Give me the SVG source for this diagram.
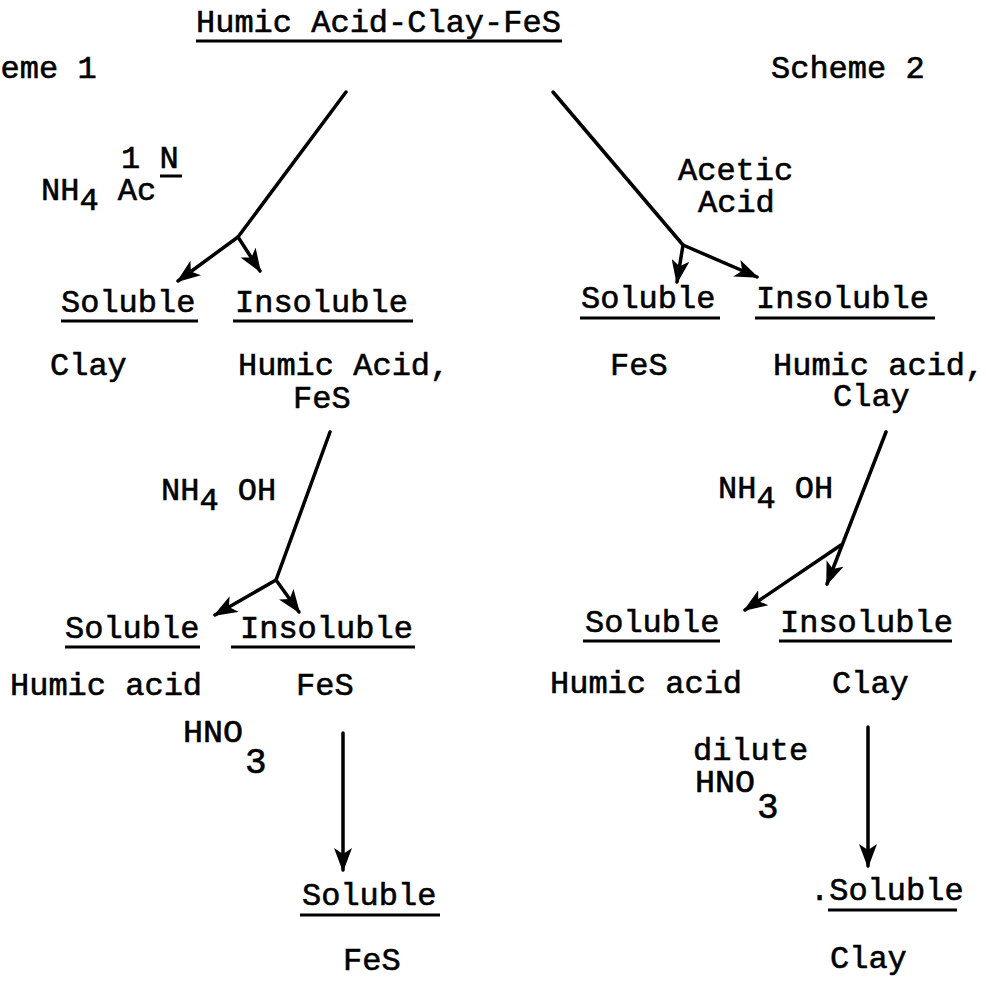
<svg xmlns="http://www.w3.org/2000/svg" width="986" height="984" viewBox="0 0 986 984">
<defs>
<style>
.t{font-family:"Liberation Mono","Courier New",monospace;font-size:32px;fill:#000;stroke:#000;stroke-width:0.6}
.u{stroke:#000;stroke-width:3;fill:none}
.c{stroke:#000;stroke-width:3.5;fill:none;stroke-linecap:round}
</style>
<marker id="ah" viewBox="0 0 24 18" refX="22" refY="9" markerWidth="24" markerHeight="18" markerUnits="userSpaceOnUse" orient="auto">
<path d="M0,0 L24,9 L0,18 L6,9 z" fill="#000"/>
</marker>
</defs>
<rect width="986" height="984" fill="#fff"/>

<g id="title">
<text class="t" x="196" y="32">Humic Acid-Clay-FeS</text>
<line class="u" x1="196" y1="41" x2="562" y2="41"/>
</g>
<g id="scheme1"><text class="t" x="-57" y="78">Scheme 1</text></g>
<g id="scheme2"><text class="t" x="771" y="78">Scheme 2</text></g>

<g id="reagent-nh4ac">
<text class="t" x="121" y="168">1 N</text>
<line class="u" x1="160" y1="176" x2="182" y2="176"/>
<text class="t" x="41" y="200">NH<tspan dy="10">4</tspan><tspan dy="-10"> Ac</tspan></text>
</g>
<g id="reagent-acetic">
<text class="t" x="678" y="180">Acetic</text>
<text class="t" x="698" y="212">Acid</text>
</g>

<g id="l1-soluble">
<text class="t" x="61" y="312">Soluble</text>
<line class="u" x1="61" y1="321" x2="198" y2="321"/>
<text class="t" x="50" y="375">Clay</text>
</g>
<g id="l1-insoluble">
<text class="t" x="235" y="312">Insoluble</text>
<line class="u" x1="233" y1="321" x2="413" y2="321"/>
<text class="t" x="238" y="375">Humic Acid,</text>
<text class="t" x="293" y="408">FeS</text>
</g>

<g id="r1-soluble">
<text class="t" x="581" y="308">Soluble</text>
<line class="u" x1="580" y1="318" x2="720" y2="318"/>
<text class="t" x="610" y="375">FeS</text>
</g>
<g id="r1-insoluble">
<text class="t" x="756" y="308">Insoluble</text>
<line class="u" x1="755" y1="318" x2="935" y2="318"/>
<text class="t" x="773" y="375">Humic acid,</text>
<text class="t" x="833" y="406">Clay</text>
</g>

<g id="reagent-nh4oh-l">
<text class="t" x="161" y="500">NH<tspan dy="10">4</tspan><tspan dy="-10"> OH</tspan></text>
</g>
<g id="reagent-nh4oh-r">
<text class="t" x="718" y="498">NH<tspan dy="10">4</tspan><tspan dy="-10"> OH</tspan></text>
</g>

<g id="l2-soluble">
<text class="t" x="65" y="638">Soluble</text>
<line class="u" x1="65" y1="647" x2="200" y2="647"/>
<text class="t" x="10" y="695">Humic acid</text>
</g>
<g id="l2-insoluble">
<text class="t" x="240" y="638">Insoluble</text>
<line class="u" x1="231" y1="647" x2="415" y2="647"/>
<text class="t" x="296" y="695">FeS</text>
</g>

<g id="r2-soluble">
<text class="t" x="585" y="632">Soluble</text>
<line class="u" x1="583" y1="641" x2="720" y2="641"/>
<text class="t" x="550" y="693">Humic acid</text>
</g>
<g id="r2-insoluble">
<text class="t" x="780" y="632">Insoluble</text>
<line class="u" x1="779" y1="641" x2="952" y2="641"/>
<text class="t" x="832" y="693">Clay</text>
</g>

<g id="reagent-hno3-l">
<text class="t" x="183" y="742"><tspan textLength="60" lengthAdjust="spacingAndGlyphs">HNO</tspan><tspan dx="2" dy="31" style="font-size:36px">3</tspan></text>
</g>
<g id="reagent-hno3-r">
<text class="t" x="693" y="760">dilute</text>
<text class="t" x="695" y="792"><tspan textLength="60" lengthAdjust="spacingAndGlyphs">HNO</tspan><tspan dx="2" dy="26" style="font-size:36px">3</tspan></text>
</g>

<g id="l3-soluble">
<text class="t" x="302" y="905">Soluble</text>
<line class="u" x1="300" y1="915" x2="440" y2="915"/>
<text class="t" x="343" y="970">FeS</text>
</g>
<g id="r3-soluble">
<text class="t" x="810" y="900">.Soluble</text>
<line class="u" x1="828" y1="910" x2="957" y2="910"/>
<text class="t" x="830" y="968">Clay</text>
</g>

<g id="connectors">
<line class="c" x1="346" y1="92" x2="238" y2="237"/>
<line class="c" x1="238" y1="237" x2="178" y2="281" marker-end="url(#ah)"/>
<line class="c" x1="238" y1="237" x2="260" y2="271" marker-end="url(#ah)"/>
<line class="c" x1="553" y1="92" x2="683" y2="245"/>
<line class="c" x1="683" y1="245" x2="677" y2="282" marker-end="url(#ah)"/>
<line class="c" x1="683" y1="245" x2="757" y2="277" marker-end="url(#ah)"/>
<line class="c" x1="330" y1="432" x2="276" y2="580"/>
<line class="c" x1="276" y1="580" x2="215" y2="615" marker-end="url(#ah)"/>
<line class="c" x1="276" y1="580" x2="299" y2="612" marker-end="url(#ah)"/>
<line class="c" x1="886" y1="432" x2="827" y2="584" marker-end="url(#ah)"/>
<line class="c" x1="841" y1="545" x2="745" y2="610" marker-end="url(#ah)"/>
<line class="c" x1="343" y1="733" x2="343" y2="870" marker-end="url(#ah)"/>
<line class="c" x1="868" y1="727" x2="868" y2="866" marker-end="url(#ah)"/>
</g>
</svg>
